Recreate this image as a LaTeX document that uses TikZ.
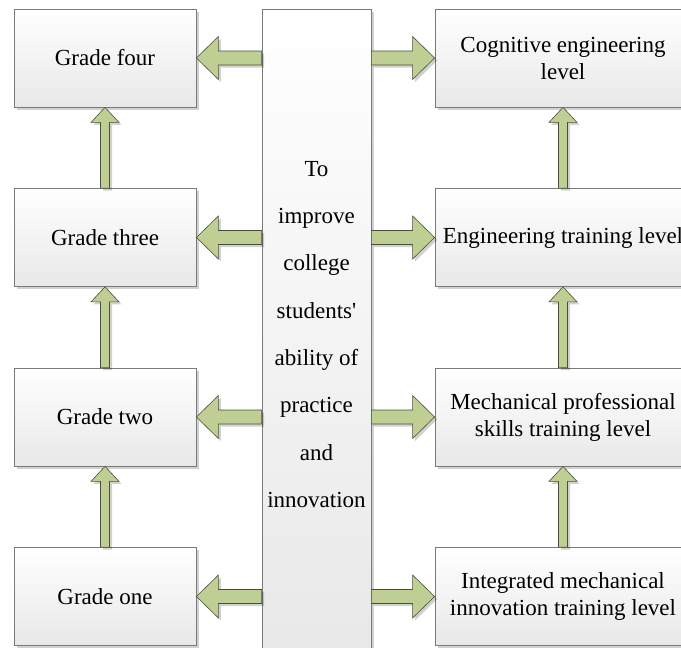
\documentclass[tikz,border=0pt]{standalone}
\usepackage{fontspec}
\setmainfont{Liberation Serif}
\usetikzlibrary{calc,shadows}
\definecolor{arrowfill}{HTML}{BFCF93}
\definecolor{arrowline}{HTML}{4A4F3C}
\definecolor{boxline}{HTML}{7A7A7A}
\tikzset{
  softshadow/.style={drop shadow={shadow xshift=2.5pt,shadow yshift=-2.5pt,fill=black,opacity=0.18}},
  levelbox/.style={draw=boxline,line width=0.8pt,top color=white,bottom color=black!9,
    softshadow,align=center,inner sep=0pt,
    font=\fontsize{23}{27}\selectfont},
  gradebox/.style={levelbox,minimum width=182pt,minimum height=98pt},
  rightbox/.style={levelbox,minimum width=256pt,minimum height=98pt},
  goalbox/.style={levelbox,minimum width=109pt,minimum height=651pt,
    font=\fontsize{23}{47.3}\selectfont},
  fatarrow/.style={fill=arrowfill,draw=arrowline,line width=0.6pt,line join=miter,softshadow},
}
% block arrow from #2 to #3: shaft half width, head half width, head length in #4,#5,#6
\newcommand\blockarrow[6][]{%
  \path[fatarrow,#1] let \p1=(#2), \p2=(#3),
    \n1={atan2(\y2-\y1,\x2-\x1)}, \n2={veclen(\x2-\x1,\y2-\y1)} in
    [shift={(\p1)},rotate=\n1]
    (0,-#4) -- (\n2-#6,-#4) -- (\n2-#6,-#5) -- (\n2,0) -- (\n2-#6,#5)
    -- (\n2-#6,#4) -- (0,#4) -- cycle;}
\begin{document}
\begin{tikzpicture}[x=1pt,y=-1pt]
\clip (0,0) rectangle (681,648);
\fill[white] (0,0) rectangle (681,648);

% left column: grades
\node[gradebox] (g4) at (105,58)    {Grade four};
\node[gradebox] (g3) at (105,237.5) {Grade three};
\node[gradebox] (g2) at (105,417)   {Grade two};
\node[gradebox] (g1) at (105,596.5) {Grade one};

% right column: training levels
\node[rightbox] (r4) at (563,58)    {Cognitive engineering\\level};
\node[rightbox] (r3) at (563,237.5) {Engineering training level};
\node[rightbox] (r2) at (563,417)   {Mechanical professional\\skills training level};
\node[rightbox] (r1) at (563,596.5) {Integrated mechanical\\innovation training level};

% central goal column
\node[goalbox] (goal) at (316.5,334.5)
  {To\\improve\\college\\students\textquotesingle\\ability of\\practice\\and\\innovation};

% horizontal arrows out of the goal column
\foreach \g/\r in {g4/r4,g3/r3,g2/r2,g1/r1}{
  \blockarrow{goal.west |- \g.east}{\g.east}{7}{21.5}{22}
  \blockarrow{goal.east |- \r.west}{\r.west}{7}{21.5}{22}
}

% upward arrows between levels
\foreach \a/\b in {g1/g2,g2/g3,g3/g4,r1/r2,r2/r3,r3/r4}{
  \blockarrow{\a.north}{\b.south}{4.5}{14}{15}
}
\end{tikzpicture}
\end{document}
